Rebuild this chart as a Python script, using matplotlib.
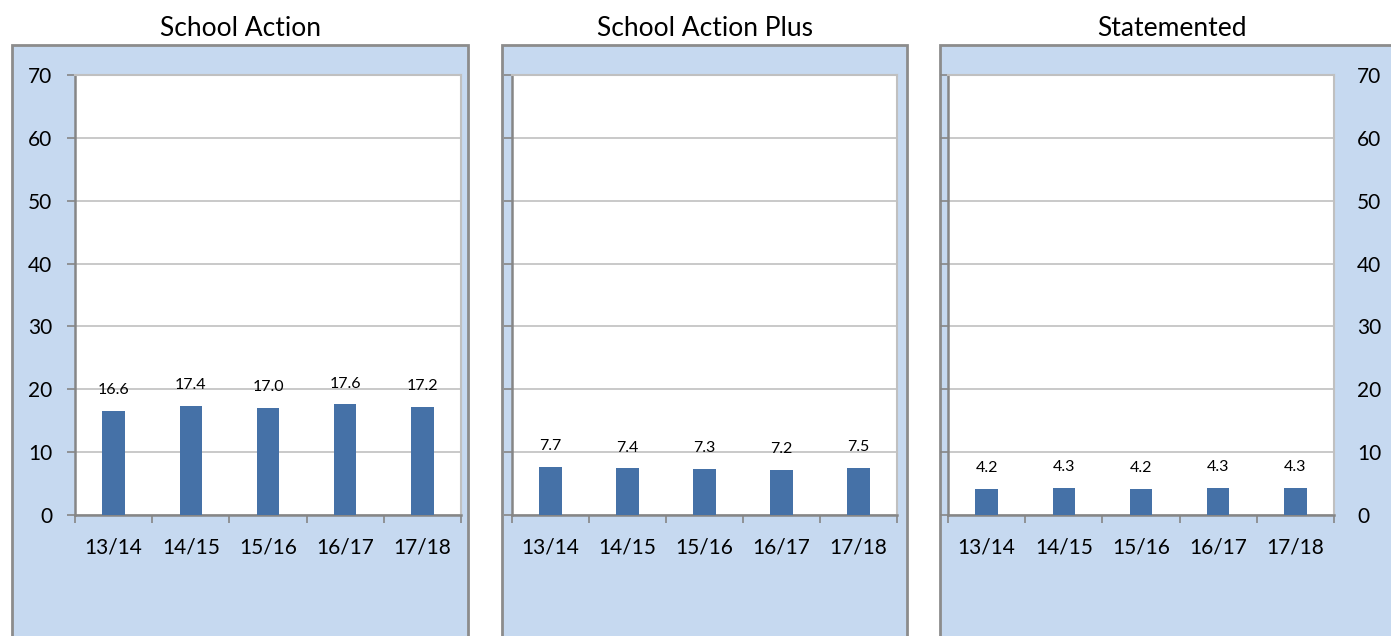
import matplotlib
matplotlib.use('Agg')
import matplotlib.pyplot as plt
from matplotlib.patches import Rectangle

plt.rcParams['font.family'] = ['Lato', 'DejaVu Sans']

# data
years = ['13/14', '14/15', '15/16', '16/17', '17/18']
titles = ['School Action', 'School Action Plus', 'Statemented']
school_action = [16.6, 17.4, 17.0, 17.6, 17.2]
school_action_plus = [7.7, 7.4, 7.3, 7.2, 7.5]
statemented = [4.2, 4.3, 4.2, 4.3, 4.3]
series = [school_action, school_action_plus, statemented]

W, H = 1391, 636
fig = plt.figure(figsize=(W / 100, H / 100), dpi=100)

bar_color = '#4571A7'
panel_bg = '#C6D9F0'
edge_grey = '#8C8C8C'
light_grey = '#C0C0C0'
axis_grey = '#868686'

# pixel boxes: (blue box x0, x1), (plot x0, x1)
boxes = [(12, 468), (502, 907), (940, 1404)]
plots = [(75, 461), (512, 897), (948, 1334)]
plot_top, plot_bottom = 75, 515

for i in range(3):
    bx0, bx1 = boxes[i]
    # blue background panel behind the axes
    fig.patches.append(Rectangle((bx0 / W, 0 - 0.02), (bx1 - bx0) / W, 1 - 45 / H + 0.02,
                                 transform=fig.transFigure, facecolor=panel_bg,
                                 edgecolor=edge_grey, linewidth=2, zorder=-10))
    fig.text((bx0 + bx1) / 2 / W, 1 - 28 / H, titles[i], ha='center', va='center', fontsize=19)

    px0, px1 = plots[i]
    ax = fig.add_axes([px0 / W, 1 - plot_bottom / H, (px1 - px0) / W, (plot_bottom - plot_top) / H])
    ax.set_facecolor('white')
    vals = series[i]
    x = list(range(len(years)))
    ax.bar(x, vals, width=0.29, color=bar_color, zorder=3)
    for xi, v in zip(x, vals):
        ax.annotate(f'{v:.1f}', (xi, v), xytext=(0, 15), textcoords='offset points',
                    ha='center', va='center', fontsize=11.5)

    ax.set_xlim(-0.5, 4.5)
    ax.set_ylim(0, 70)
    ax.set_yticks(range(0, 71, 10))
    ax.grid(axis='y', color=light_grey, linewidth=1.2, zorder=0)
    ax.set_axisbelow(True)

    # category labels in the middle, tick marks between categories
    ax.set_xticks(x)
    ax.set_xticklabels(years, fontsize=15)
    ax.tick_params(axis='x', which='major', length=0, pad=16)
    ax.set_xticks([k - 0.5 for k in range(6)], minor=True)
    ax.tick_params(axis='x', which='minor', length=5.8, width=1.2, color=axis_grey, direction='out')

    ax.tick_params(axis='y', length=5.8, width=1.2, color=axis_grey, direction='out', labelsize=15, pad=10.7)
    if i == 1:
        ax.tick_params(axis='y', labelleft=False)
    if i == 2:
        ax.tick_params(axis='y', left=True, right=False, labelleft=False, labelright=True)

    for s in ['top', 'right']:
        ax.spines[s].set_color(light_grey)
        ax.spines[s].set_linewidth(1.5)
    for s in ['left', 'bottom']:
        ax.spines[s].set_color(axis_grey)
        ax.spines[s].set_linewidth(1.8)

fig.savefig('out.png', dpi=100)
